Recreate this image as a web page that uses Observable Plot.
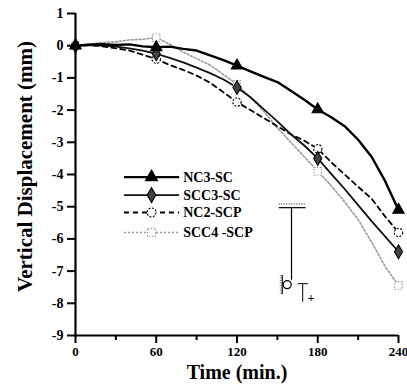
<!DOCTYPE html>
<html>
<head>
<meta charset="utf-8">
<script src="https://cdn.jsdelivr.net/npm/d3@7"></script>
<script src="https://cdn.jsdelivr.net/npm/@observablehq/plot@0.6"></script>
<style>
  html, body { margin: 0; padding: 0; background: #fff; }
  #chart svg { display: block; }
  #chart svg, #chart svg text { font-family: "Liberation Serif", "DejaVu Serif", serif !important; font-weight: bold; }
  #chart svg text.plain { font-family: "DejaVu Sans", sans-serif !important; font-weight: normal; }
</style>
</head>
<body>
<div id="chart"></div>
<script>
// ---- data ----
const times = [0,10,20,30,40,50,60,70,80,90,100,110,120,130,140,150,160,170,180,190,200,210,220,230,240];
const nc3sc  = [0,0.03,0.05,0.02,0.04,-0.02,-0.05,-0.03,-0.1,-0.15,-0.3,-0.45,-0.62,-0.8,-0.97,-1.13,-1.4,-1.68,-1.98,-2.22,-2.5,-2.92,-3.45,-4.2,-5.1];
const scc3sc = [0,0.02,0,-0.03,-0.08,-0.15,-0.25,-0.38,-0.52,-0.68,-0.85,-1.05,-1.3,-1.6,-1.98,-2.35,-2.75,-3.1,-3.5,-3.98,-4.45,-4.95,-5.45,-5.92,-6.4];
const nc2scp = [0,0.02,-0.02,-0.08,-0.15,-0.28,-0.42,-0.6,-0.75,-0.93,-1.15,-1.45,-1.75,-2.0,-2.25,-2.5,-2.75,-2.95,-3.2,-3.62,-4.0,-4.38,-4.75,-5.3,-5.8];
const scc4scp = [0,0.05,0.1,0.12,0.18,0.2,0.25,0.05,-0.2,-0.4,-0.6,-0.9,-1.2,-1.6,-2.05,-2.55,-3.0,-3.45,-3.9,-4.35,-4.85,-5.4,-6.1,-6.85,-7.45];
const seriesNames = ["NC3-SC", "SCC3-SC", "NC2-SCP", "SCC4 -SCP"];
const markerTimes = [0, 60, 120, 180, 240];
const xTicks = [0, 60, 120, 180, 240];
const xMinorTicks = [30, 90, 150, 210];
const yTicks = [1, 0, -1, -2, -3, -4, -5, -6, -7, -8, -9];
const xTitle = "Time (min.)";
const yTitle = "Vertical Displacement (mm)";

// ---- tables built from the arrays ----
const valuesBySeries = [nc3sc, scc3sc, nc2scp, scc4scp];
const table = seriesNames.map((name, i) => times.map((t, j) => ({series: name, t, v: valuesBySeries[i][j]})));
const markers = table.map(rows => rows.filter(d => markerTimes.includes(d.t)));

// ---- styles ----
const FONT = "'Liberation Serif', 'DejaVu Serif', serif";
const styles = [
  {stroke: "#000", strokeWidth: 2.4, strokeDasharray: null, symbol: "triangle", fill: "#000", mstroke: "#000", mdash: null},
  {stroke: "#111", strokeWidth: 1.8, strokeDasharray: null, symbol: "diamond", fill: "#444", mstroke: "#000", mdash: null},
  {stroke: "#000", strokeWidth: 1.8, strokeDasharray: "5,4", symbol: "circle", fill: "#fff", mstroke: "#000", mdash: "2,1.5"},
  {stroke: "#999", strokeWidth: 1.6, strokeDasharray: "2,2", symbol: "square", fill: "#fff", mstroke: "#999", mdash: "1.5,1.5"}
];

// legend layout (data units, inside the plot area)
const legendX1 = 36, legendX2 = 77, legendXM = 56.5, legendXText = 80;
const legendY = [-4.08, -4.64, -5.18, -5.8];
const legendRows = seriesNames.map((name, i) => ({name, y: legendY[i], i}));

// schematic annotation (data units)
const schematicLines = [
  {x1: 151, y1: -5.03, x2: 171, y2: -5.03, w: 1.2},
  {x1: 160.5, y1: -5.03, x2: 160.5, y2: -7.27, w: 1.2},
  {x1: 153.6, y1: -7.12, x2: 153.6, y2: -7.72, w: 1.2},
  {x1: 165, y1: -7.39, x2: 172.6, y2: -7.39, w: 1},
  {x1: 168.8, y1: -7.39, x2: 168.8, y2: -7.95, w: 1}
];

const marks = [];
[3, 2, 1, 0].forEach(i => {
  const s = styles[i];
  marks.push(Plot.line(table[i], {x: "t", y: "v", stroke: s.stroke, strokeWidth: s.strokeWidth, strokeDasharray: s.strokeDasharray, strokeLinejoin: "round"}));
});
[3, 2, 1, 0].forEach(i => {
  const s = styles[i];
  marks.push(Plot.dot(markers[i], {x: "t", y: "v", symbol: () => s.symbol, r: 4.2, fill: s.fill, stroke: s.mstroke, strokeWidth: 1.1, strokeDasharray: s.mdash}));
});

// legend
legendRows.forEach(r => {
  const s = styles[r.i];
  marks.push(Plot.link([r], {x1: () => legendX1, x2: () => legendX2, y1: "y", y2: "y", stroke: s.stroke, strokeWidth: s.strokeWidth, strokeDasharray: s.strokeDasharray}));
  marks.push(Plot.dot([r], {x: () => legendXM, y: "y", symbol: () => s.symbol, r: 4.5, fill: s.fill, stroke: s.mstroke, strokeWidth: 1.1, strokeDasharray: s.mdash}));
  marks.push(Plot.text([r], {x: () => legendXText, y: "y", text: "name", textAnchor: "start", fontSize: 14, fontWeight: "bold", fill: "#000", fontFamily: FONT}));
});

// schematic
marks.push(Plot.link(schematicLines, {x1: "x1", y1: "y1", x2: "x2", y2: "y2", stroke: "#000", strokeWidth: "w"}));
marks.push(Plot.link([{x1: 151, x2: 171, y: -4.92}], {x1: "x1", x2: "x2", y1: "y", y2: "y", stroke: "#888", strokeWidth: 2, strokeDasharray: "1,1.5"}));
marks.push(Plot.link([{x: 152.5, y1: -7.12, y2: -7.72}], {x1: "x", x2: "x", y1: "y1", y2: "y2", stroke: "#888", strokeWidth: 2, strokeDasharray: "1,1.5"}));
marks.push(Plot.dot([{x: 157.3, y: -7.42}], {x: "x", y: "y", r: 4, fill: "none", stroke: "#000", strokeWidth: 1.2}));
marks.push(Plot.text([{x: 175, y: -7.83, s: "+"}], {x: "x", y: "y", text: "s", fontSize: 12, fontWeight: "normal", className: "plain"}));

// axes
marks.push(Plot.axisY(yTicks, {tickSize: 8, tickPadding: 4, tickFormat: d => String(d), fontSize: 14, fontWeight: "bold", fontFamily: FONT, strokeWidth: 2, label: null}));
marks.push(Plot.axisX(xTicks, {tickSize: 8, tickPadding: 3, tickFormat: d => String(d), fontSize: 13, fontWeight: "bold", fontFamily: FONT, strokeWidth: 2, label: null}));
marks.push(Plot.axisX(xMinorTicks, {tickSize: 5, tickFormat: () => "", strokeWidth: 2, label: null}));
marks.push(Plot.ruleX([0], {stroke: "#000", strokeWidth: 2.2}));
marks.push(Plot.ruleY([-9], {stroke: "#000", strokeWidth: 2.2}));
marks.push(Plot.text([yTitle], {frameAnchor: "left", textAnchor: "middle", lineAnchor: "middle", rotate: -90, dx: -50, dy: -8, fontSize: 21, fontWeight: "bold", fill: "#000", fontFamily: FONT}));
marks.push(Plot.text([xTitle], {frameAnchor: "bottom", textAnchor: "middle", lineAnchor: "middle", dy: 37, fontSize: 20, fontWeight: "bold", fill: "#000", fontFamily: FONT}));

const chart = Plot.plot({
  width: 407,
  height: 390,
  marginLeft: 75,
  marginRight: 9,
  marginTop: 13,
  marginBottom: 55,
  x: {domain: [0, 240]},
  y: {domain: [-9, 1]},
  style: {fontFamily: FONT, fontWeight: "bold", color: "#000", background: "#fff", overflow: "visible"},
  marks
});
document.getElementById("chart").appendChild(chart);
</script>
</body>
</html>
